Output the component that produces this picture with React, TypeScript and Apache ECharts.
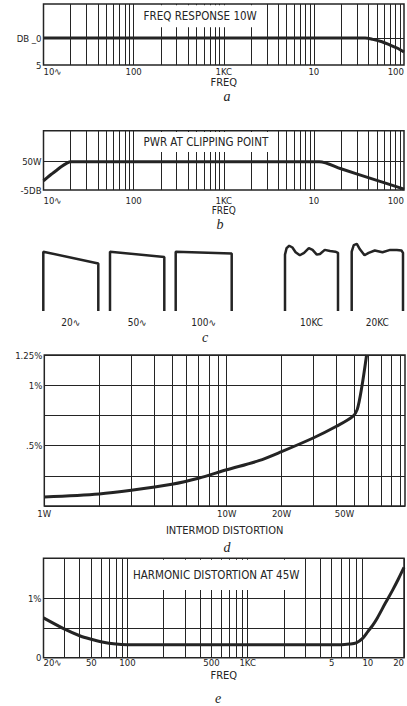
import React, { useEffect, useRef } from 'react';
import * as echarts from 'echarts';

const INK = '#242424';
const FONT = "'DejaVu Sans Condensed', 'Liberation Sans Narrow', 'DejaVu Sans', sans-serif";
const SCRIPT = "'Liberation Serif', 'DejaVu Serif', serif";

// ---------- a: frequency response at 10 W (dB, attenuation drawn downward)
const FREQ_A = [10, 100, 1000, 10000, 30000, 37000, 45000, 57000, 70000, 85000, 100000];
const DB_A = [0, 0, 0, 0, 0, 0, 0.25, 0.7, 1.3, 1.9, 2.6];
const TITLE_A = 'FREQ RESPONSE 10W';
const X_TICKS_AB = [10, 100, 1000, 10000, 100000];
const X_LABELS_AB = ['10\u223F', '100', '1KC', '10', '100'];
const Y_TICKS_A = [0, 5];
const Y_LABELS_A = ['DB _0', '5'];

// ---------- b: power at clipping point (dB relative to 50 W)
const FREQ_B = [10, 11, 12.5, 14, 16, 18, 20, 100, 1000, 11500, 20000, 50000, 100000];
const DB_B = [-3.4, -2.8, -2.1, -1.5, -0.8, -0.3, 0, 0, 0, 0, -1.25, -3.3, -4.85];
const TITLE_B = 'PWR AT CLIPPING POINT';
const Y_TICKS_B = [0, -5];
const Y_LABELS_B = ['50W', '-5DB'];

// ---------- c: square-wave response (normalised time, normalised amplitude)
const WAVE_NAMES = ['20\u223F', '50\u223F', '100\u223F', '10KC', '20KC'];
const WAVE_20 = [[0, 0], [0, 1], [1, 0.8], [1, 0]];
const WAVE_50 = [[0, 0], [0, 1], [1, 0.91], [1, 0]];
const WAVE_100 = [[0, 0], [0, 1], [1, 0.97], [1, 0]];
const WAVE_10K = [[0, 0], [0, 0.95], [0.03, 1.06], [0.08, 1.1], [0.14, 1.07], [0.2, 0.99], [0.28, 0.94], [0.36, 0.98], [0.45, 1.06], [0.52, 1.03], [0.6, 0.95], [0.66, 0.96], [0.75, 1.03], [0.85, 1.01], [0.95, 1.0], [1, 0.98], [1, 0]];
const WAVE_20K = [[0, 0], [0, 1.0], [0.04, 1.11], [0.1, 1.13], [0.16, 1.04], [0.25, 0.94], [0.33, 0.98], [0.45, 1.02], [0.6, 0.99], [0.75, 1.03], [0.88, 1.03], [0.97, 1.02], [1, 0.98], [1, 0]];

// ---------- d: intermodulation distortion vs power
const POWER_D = [1, 2, 3, 5, 7, 10, 15, 20, 30, 40, 49, 52, 55, 58.5];
const IM_D = [0.075, 0.1, 0.13, 0.18, 0.23, 0.3, 0.375, 0.45, 0.565, 0.66, 0.74, 0.8, 0.98, 1.25];
const X_TICKS_D = [1, 10, 20, 50];
const X_LABELS_D = ['1W', '10W', '20W', '50W'];
const Y_TICKS_D = [0.5, 1, 1.25];
const Y_LABELS_D = ['.5%', '1%', '1.25%'];

// ---------- e: harmonic distortion at 45 W
const FREQ_E = [20, 30, 40, 50, 60, 80, 100, 200, 1000, 5000, 6000, 7000, 8000, 9000, 10000, 11000, 12000, 14000, 16000, 18000, 20000];
const THD_E = [0.67, 0.48, 0.37, 0.31, 0.27, 0.23, 0.22, 0.22, 0.22, 0.22, 0.22, 0.23, 0.25, 0.32, 0.44, 0.55, 0.67, 0.92, 1.13, 1.33, 1.52];
const TITLE_E = 'HARMONIC DISTORTION AT 45W';
const X_TICKS_E = [20, 50, 100, 500, 1000, 5000, 10000, 20000];
const X_LABELS_E = ['20\u223F', '50', '100', '500', '1KC', '5', '10', '20'];
const Y_TICKS_E = [0, 1];
const Y_LABELS_E = ['0', '1%'];

const L = Math.log10;

function gridLines(lo: number, hi: number, extra: number[] = []): number[] {
  const out: number[] = [];
  for (let d = lo; d < hi; d *= 10) {
    for (let k = 1; k <= 9; k++) {
      const v = d * k;
      if (v <= hi) out.push(v);
    }
  }
  return out.concat(extra);
}

const pick = (vals: number[], texts: string[]) => (v: number) => {
  const i = vals.findIndex((x) => Math.abs(x - v) < 1e-6);
  return i >= 0 ? texts[i] : '';
};

const labelStyle = { color: INK, fontFamily: FONT, fontSize: 9.5 };
const nameStyle = { color: INK, fontFamily: FONT, fontSize: 11 };

function logXAxis(gridIndex: number, lo: number, hi: number, lines: number[], ticks: number[], labels: string[], name: string, margin: number, nameGap: number, minAlign: string, nameSize = 11) {
  const tv = ticks.map(L);
  return {
    type: 'value',
    gridIndex,
    min: L(lo),
    max: L(hi),
    axisLine: { show: false },
    axisTick: { show: false, customValues: lines.map(L) },
    splitLine: { show: true, lineStyle: { color: INK, width: 1 } },
    axisLabel: {
      ...labelStyle,
      customValues: tv,
      formatter: pick(tv, labels),
      margin,
      alignMinLabel: minAlign,
      alignMaxLabel: 'right',
      showMinLabel: true,
      showMaxLabel: true,
      hideOverlap: false,
    },
    name,
    nameLocation: 'middle',
    nameGap,
    nameTextStyle: { ...nameStyle, fontSize: nameSize },
  };
}

function yAxisDef(gridIndex: number, min: number, max: number, lines: number[], ticks: number[], labels: string[], inverse = false) {
  return {
    type: 'value',
    gridIndex,
    min,
    max,
    inverse,
    axisLine: { show: false },
    axisTick: { show: false, customValues: lines },
    splitLine: { show: true, lineStyle: { color: INK, width: 1 } },
    axisLabel: { ...labelStyle, customValues: ticks, formatter: pick(ticks, labels), margin: 2, showMinLabel: true, showMaxLabel: true },
  };
}

function titleBox(text: string, x0: number, x1: number, y0: number, y1: number) {
  return {
    silent: true,
    itemStyle: { color: '#ffffff', opacity: 1, borderWidth: 0 },
    label: { show: true, position: 'inside', color: INK, fontFamily: FONT, fontSize: 11.5 },
    emphasis: { disabled: true },
    data: [[{ name: text, xAxis: x0, yAxis: y0 }, { xAxis: x1, yAxis: y1 }]],
  };
}

const curve = (xi: number, data: number[][], smooth: number, markArea?: any) => ({
  type: 'line',
  xAxisIndex: xi,
  yAxisIndex: xi,
  data,
  showSymbol: false,
  smooth,
  clip: false,
  lineStyle: { color: INK, width: 3 },
  z: 5,
  ...(markArea ? { markArea } : {}),
});

const WAVE_GRIDS = [
  [43.3, 55],
  [110, 54.3],
  [175.7, 56],
  [285, 53],
  [351.7, 51.3],
];
const WAVES = [WAVE_20, WAVE_50, WAVE_100, WAVE_10K, WAVE_20K];

export default function App() {
  const ref = useRef<HTMLDivElement>(null);
  useEffect(() => {
    if (!ref.current) return;
    const chart = echarts.init(ref.current, undefined, { renderer: 'svg' });
    const frame = { show: true, borderColor: INK, borderWidth: 1.5, backgroundColor: 'transparent' };
    const linesAB = gridLines(10, 100000);
    const linesD = gridLines(1, 95);
    const linesE = [20, 30, 40, 50, 60, 70, 80, 90].concat(gridLines(100, 10000), [20000]);

    const grids: any[] = [
      { left: 43.5, top: 4, width: 361.5, height: 61, ...frame },
      { left: 43.5, top: 130.7, width: 361.5, height: 59.3, ...frame },
      { left: 44.3, top: 355, width: 360.7, height: 151, ...frame },
      { left: 43.5, top: 558.3, width: 361.5, height: 99.4, ...frame },
    ];
    WAVE_GRIDS.forEach(([l, w]) => grids.push({ left: l, top: 239.8, width: w, height: 71.2, show: false }));

    const xAxes: any[] = [
      logXAxis(0, 10, 100000, linesAB, X_TICKS_AB, X_LABELS_AB, 'FREQ', 1, 12, 'left'),
      logXAxis(1, 10, 100000, linesAB, X_TICKS_AB, X_LABELS_AB, 'FREQ', 5, 14, 'left', 10),
      logXAxis(2, 1, 95, linesD, X_TICKS_D, X_LABELS_D, 'INTERMOD DISTORTION', 2, 19, 'center'),
      logXAxis(3, 20, 20000, linesE, X_TICKS_E, X_LABELS_E, 'FREQ', 0, 12, 'left'),
    ];
    const yAxes: any[] = [
      yAxisDef(0, -6.3, 5, [0], Y_TICKS_A, Y_LABELS_A, true),
      yAxisDef(1, -5, 5.48, [0], Y_TICKS_B, Y_LABELS_B),
      yAxisDef(2, 0, 1.25, [0, 0.25, 0.5, 0.75, 1, 1.25], Y_TICKS_D, Y_LABELS_D),
      yAxisDef(3, 0, 1.674, [0, 0.5, 1], Y_TICKS_E, Y_LABELS_E),
    ];
    WAVE_NAMES.forEach((n, i) => {
      xAxes.push({
        type: 'value', gridIndex: 4 + i, min: 0, max: 1,
        axisLine: { show: false }, axisTick: { show: false }, axisLabel: { show: false }, splitLine: { show: false },
        name: n, nameLocation: 'middle', nameGap: 6, nameTextStyle: { ...labelStyle, fontSize: 10 },
      });
      yAxes.push({ type: 'value', gridIndex: 4 + i, min: 0, max: 1.2, show: false });
    });

    const series: any[] = [
      curve(0, FREQ_A.map((f, i) => [L(f), DB_A[i]]), 0.3, titleBox(TITLE_A, L(100) + 0.01, L(3000) - 0.01, -6.05, -2.0)),
      curve(1, FREQ_B.map((f, i) => [L(f), DB_B[i]]), 0.3, titleBox(TITLE_B, L(100) + 0.01, L(4000) - 0.01, 5.25, 1.7)),
      curve(2, POWER_D.map((p, i) => [L(p), IM_D[i]]), 0.3),
      curve(3, FREQ_E.map((f, i) => [L(f), THD_E[i]]), 0.3, titleBox(TITLE_E, L(100) + 0.008, L(3000) - 0.008, 1.65, 1.14)),
    ];
    WAVES.forEach((w, i) => {
      series.push({
        type: 'line', xAxisIndex: 4 + i, yAxisIndex: 4 + i, data: w, showSymbol: false, clip: false,
        lineStyle: { color: INK, width: 2.5 },
      });
    });

    const letter = (t: string, x: number, y: number) => ({
      type: 'text', x, y, silent: true,
      style: { text: t, fill: INK, font: `italic 14px ${SCRIPT}`, textAlign: 'center', textVerticalAlign: 'middle' },
    });

    chart.setOption({
      animation: false,
      backgroundColor: '#ffffff',
      grid: grids,
      xAxis: xAxes,
      yAxis: yAxes,
      series,
      graphic: [
        letter('a', 227, 96),
        letter('b', 220, 224),
        letter('c', 205, 337),
        letter('d', 227, 547),
        letter('e', 218, 698),
      ],
    });
    return () => chart.dispose();
  }, []);
  return <div ref={ref} style={{ position: 'fixed', left: 0, top: 0, width: 407, height: 706 }} />;
}
